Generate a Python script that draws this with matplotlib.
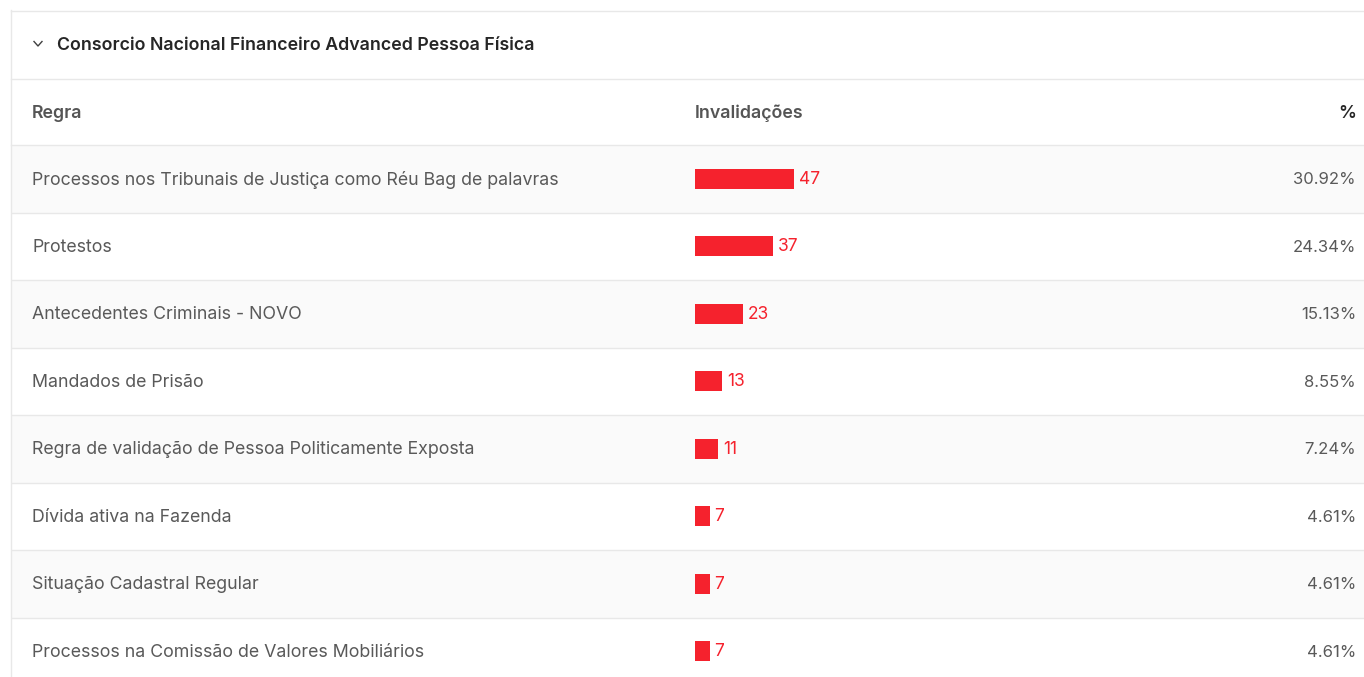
import matplotlib.pyplot as plt
from matplotlib.patches import Rectangle

plt.rcParams['font.family'] = ['Inter', 'DejaVu Sans']

title = 'Consorcio Nacional Financeiro Advanced Pessoa Física'
headers = ['Regra', 'Invalidações', '%']
regras = [
    'Processos nos Tribunais de Justiça como Réu Bag de palavras',
    'Protestos',
    'Antecedentes Criminais - NOVO',
    'Mandados de Prisão',
    'Regra de validação de Pessoa Politicamente Exposta',
    'Dívida ativa na Fazenda',
    'Situação Cadastral Regular',
    'Processos na Comissão de Valores Mobiliários',
]
invalidacoes = [47, 37, 23, 13, 11, 7, 7, 7]
percentuais = ['30.92%', '24.34%', '15.13%', '8.55%', '7.24%', '4.61%', '4.61%', '4.61%']

W, H = 1364, 677
fig = plt.figure(figsize=(W / 100, H / 100), dpi=100)

# background layer in pixel coords
bg = fig.add_axes([0, 0, 1, 1])
bg.set_xlim(0, W)
bg.set_ylim(H, 0)
bg.axis('off')

line_c = '#e8e8e8'
row_top = 145
row_h = 67.5

for i in range(len(regras)):
    y0 = row_top + i * row_h
    if i % 2 == 0:
        bg.add_patch(Rectangle((12, y0), W - 12, row_h, color='#fafafa', lw=0, zorder=0))
    if i > 0:
        bg.plot([12, W], [y0, y0], color=line_c, lw=1, zorder=1)
    yc = y0 + row_h / 2 + 1.2
    bg.text(32, yc, regras[i], fontsize=12.8, color='#595959', va='center', ha='left')
    bg.text(1356, yc, percentuais[i], fontsize=12, color='#595959', va='center', ha='right')

# card borders
bg.plot([11, 11], [10, H], color=line_c, lw=1)
bg.plot([11, W], [10.5, 10.5], color=line_c, lw=1)
bg.plot([11, W], [78.5, 78.5], color=line_c, lw=1)
bg.plot([11, W], [144.5, 144.5], color=line_c, lw=1)

# title row
bg.plot([34, 38, 42], [41.5, 46, 41.5], color='#404040', lw=1)
bg.text(57, 45.5, title, fontsize=12.8, fontweight='semibold', color='#262626', va='center', ha='left')

# header row
bg.text(32, 113.5, headers[0], fontsize=12.8, fontweight='semibold', color='#555555', va='center', ha='left')
bg.text(695, 113.5, headers[1], fontsize=12.8, fontweight='semibold', color='#555555', va='center', ha='left')
bg.text(1356, 113.5, headers[2], fontsize=12.8, fontweight='semibold', color='#262626', va='center', ha='right')

# bars: 2.1 px per unit starting at x=695
x_left = 695
px_per_unit = 2.1
span = 100
ax = fig.add_axes([x_left / W, 0, span * px_per_unit / W, (H - row_top) / H])
ax.set_xlim(0, span)
ax.set_ylim(-0.5 + (H - row_top) / row_h, -0.5)
ax.axis('off')
ax.patch.set_alpha(0)

ypos = list(range(len(invalidacoes)))
ax.barh(ypos, invalidacoes, height=20 / row_h, color='#f5222d', lw=0)
for i, v in enumerate(invalidacoes):
    ax.annotate(str(v), (v, i), xytext=(3.5, -0.5), textcoords='offset points',
                fontsize=12.5, color='#f5222d', va='center', ha='left')

fig.savefig('out.png', dpi=100)
